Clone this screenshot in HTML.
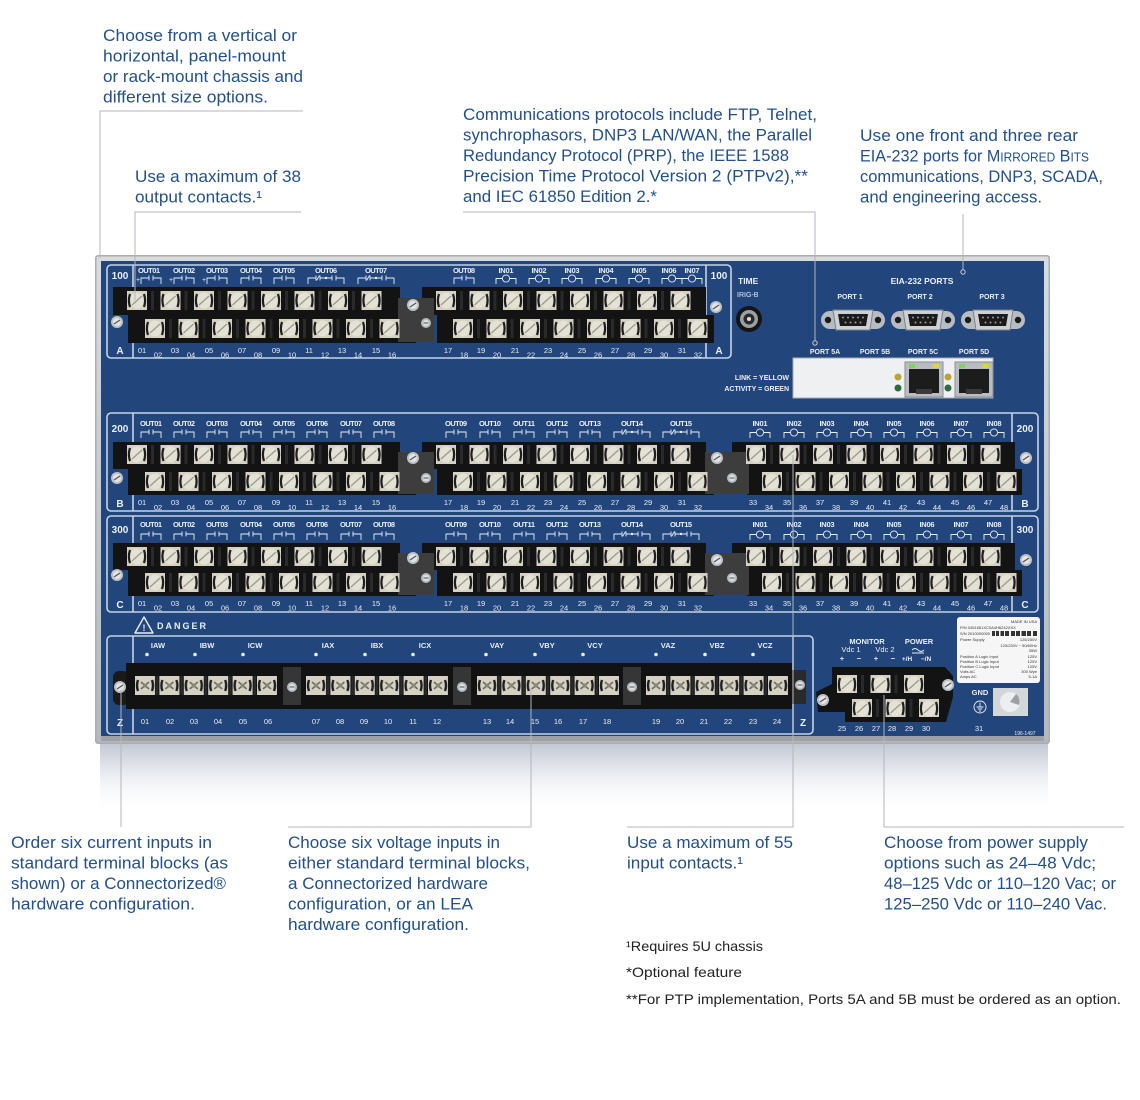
<!DOCTYPE html>
<html><head><meta charset="utf-8"><style>
html,body{margin:0;padding:0;background:#fff;}
svg{display:block;font-family:"Liberation Sans",sans-serif;}
.c{fill:#24508a;font-size:17px;}
.f{fill:#222;font-size:14px;}
.w{fill:#e8eef6;}
.lb{fill:#e8eef6;font-size:7.5px;font-weight:bold;text-anchor:middle;}
.nm{fill:#e8eef6;font-size:7.5px;text-anchor:middle;}
.bx{fill:none;stroke:#c5d3e8;stroke-width:1.6;}
.sep{stroke:#c5d3e8;stroke-width:1.6;}
.ln{stroke:#b3b6bb;stroke-width:1;fill:none;}
.sym{stroke:#e8eef6;stroke-width:0.9;fill:none;}
.st{fill:#333;font-size:4px;}
</style></head><body>
<svg width="1140" height="1100" viewBox="0 0 1140 1100" xmlns="http://www.w3.org/2000/svg">
<defs>
<linearGradient id="refl" x1="0" y1="0" x2="0" y2="1">
<stop offset="0" stop-color="#b9c1cc" stop-opacity="0.9"/>
<stop offset="0.35" stop-color="#d6dbe3" stop-opacity="0.7"/>
<stop offset="1" stop-color="#ffffff" stop-opacity="0"/>
</linearGradient>
<linearGradient id="bez" x1="0" y1="0" x2="0" y2="1">
<stop offset="0" stop-color="#d9dbdd"/><stop offset="1" stop-color="#b4b8bc"/>
</linearGradient>
<pattern id="sc" width="33.5" height="20" patternUnits="userSpaceOnUse">
<rect x="0" y="0" width="20" height="19" fill="#d6d2c3"/>
<ellipse cx="10" cy="9.5" rx="7" ry="8" fill="#e4e1d5"/>
<path d="M3,3 Q0.8,9.5 3,16" stroke="#1e1e1e" stroke-width="2.2" fill="none"/>
<path d="M17,3 Q19.2,9.5 17,16" stroke="#1e1e1e" stroke-width="2.2" fill="none"/>
<line x1="5" y1="14" x2="15" y2="5" stroke="#9d998b" stroke-width="1.3"/>
<rect x="24" y="-1" width="3" height="22" fill="#2a2a2a"/>
</pattern>
<pattern id="sz" width="24.4" height="20" patternUnits="userSpaceOnUse">
<rect x="0" y="0" width="20" height="19" fill="#d6d2c3"/>
<path d="M3,4 Q1,9.5 3,15" stroke="#1e1e1e" stroke-width="2.4" fill="none"/>
<path d="M17,4 Q19,9.5 17,15" stroke="#1e1e1e" stroke-width="2.4" fill="none"/>
<path d="M6,6 L14,13 M14,6 L6,13" stroke="#6e6a5e" stroke-width="1.6"/>
<circle cx="10" cy="9.5" r="2" fill="#8a8678"/>
<rect x="21" y="-4" width="2.4" height="27" fill="#2a2a2a"/>
</pattern>
<g id="no"><path class="sym" d="M-10,8 V2 H-2 M-2,-0.5 V4.5 M2,-0.5 V4.5 M2,2 H10 V8"/></g>
<g id="fc"><path class="sym" d="M-18,8 V2 H-10 M-10,-0.5 V4.5 M-6,-0.5 V4.5 M-9.5,4.5 L-6.5,-0.5 M-6,2 H6 M6,-0.5 V4.5 M10,-0.5 V4.5 M10,2 H18 V8"/><circle cx="0" cy="2" r="1.2" fill="#e8eef6"/></g>
<g id="in"><path class="sym" d="M-10,8 V2.5 H-4 M4,2.5 H10 V8"/><circle class="sym" cx="0" cy="2.5" r="3.6"/></g>
<g id="ms"><circle r="6" fill="#bfc2c4"/><circle r="4" fill="#e2e4e6"/><path d="M-3,2 L3,-2" stroke="#555" stroke-width="1.2"/></g>
<g id="ss"><circle r="5" fill="#b7babd"/><circle r="3.2" fill="#dcdfe1"/><path d="M-2.5,0 H2.5" stroke="#555" stroke-width="1"/></g>
<g id="db9">
<rect x="-32" y="-9" width="64" height="18" rx="9" fill="#b7bcc2"/>
<circle cx="-25" cy="0" r="3.2" fill="#1a1a1a"/><circle cx="25" cy="0" r="3.2" fill="#1a1a1a"/>
<path d="M-20,-10 H20 L17,10 H-17 Z" fill="#cdd1d5" stroke="#7d8287" stroke-width="1"/>
<path d="M-15,-6 H15 L13,6 H-13 Z" fill="#1b1b1b"/>
<g fill="#9a9a9a"><circle cx="-10" cy="-2.5" r="1"/><circle cx="-5" cy="-2.5" r="1"/><circle cx="0" cy="-2.5" r="1"/><circle cx="5" cy="-2.5" r="1"/><circle cx="10" cy="-2.5" r="1"/><circle cx="-7.5" cy="2.5" r="1"/><circle cx="-2.5" cy="2.5" r="1"/><circle cx="2.5" cy="2.5" r="1"/><circle cx="7.5" cy="2.5" r="1"/></g>
</g>
<g id="rj">
<rect x="0" y="0" width="38" height="35" fill="#b9bdc1" stroke="#8a8e92" stroke-width="1"/>
<rect x="4" y="7" width="30" height="24" fill="#1c1c1c"/>
<rect x="4" y="2" width="6" height="4" fill="#7fd35a"/>
<rect x="28" y="2" width="6" height="4" fill="#e4d630"/>
<rect x="11" y="27" width="16" height="5" fill="#3a3a3a"/>
</g>
</defs>

<!-- ===== Callout text ===== -->
<text class="c" x="103" y="41" textLength="194" lengthAdjust="spacingAndGlyphs">Choose from a vertical or</text>
<text class="c" x="103" y="61.5" textLength="183" lengthAdjust="spacingAndGlyphs">horizontal, panel-mount</text>
<text class="c" x="103" y="82" textLength="200" lengthAdjust="spacingAndGlyphs">or rack-mount chassis and</text>
<text class="c" x="103" y="102.5" textLength="165" lengthAdjust="spacingAndGlyphs">different size options.</text>

<text class="c" x="135" y="182" textLength="166" lengthAdjust="spacingAndGlyphs">Use a maximum of 38</text>
<text class="c" x="135" y="202.5" textLength="127" lengthAdjust="spacingAndGlyphs">output contacts.¹</text>

<text class="c" x="463" y="120" textLength="354" lengthAdjust="spacingAndGlyphs">Communications protocols include FTP, Telnet,</text>
<text class="c" x="463" y="140.5" textLength="349" lengthAdjust="spacingAndGlyphs">synchrophasors, DNP3 LAN/WAN, the Parallel</text>
<text class="c" x="463" y="161" textLength="326" lengthAdjust="spacingAndGlyphs">Redundancy Protocol (PRP), the IEEE 1588</text>
<text class="c" x="463" y="181.5" textLength="345" lengthAdjust="spacingAndGlyphs">Precision Time Protocol Version 2 (PTPv2),**</text>
<text class="c" x="463" y="202" textLength="194" lengthAdjust="spacingAndGlyphs">and IEC 61850 Edition 2.*</text>

<text class="c" x="860" y="141" textLength="218" lengthAdjust="spacingAndGlyphs">Use one front and three rear</text>
<text class="c" x="860" y="161.5" textLength="229" lengthAdjust="spacingAndGlyphs">EIA-232 ports for M<tspan font-size="12.5">IRRORED</tspan> B<tspan font-size="12.5">ITS</tspan></text>
<text class="c" x="860" y="182" textLength="243" lengthAdjust="spacingAndGlyphs">communications, DNP3, SCADA,</text>
<text class="c" x="860" y="202.5" textLength="182" lengthAdjust="spacingAndGlyphs">and engineering access.</text>

<text class="c" x="11" y="848" textLength="201" lengthAdjust="spacingAndGlyphs">Order six current inputs in</text>
<text class="c" x="11" y="868.5" textLength="217" lengthAdjust="spacingAndGlyphs">standard terminal blocks (as</text>
<text class="c" x="11" y="889" textLength="215" lengthAdjust="spacingAndGlyphs">shown) or a Connectorized®</text>
<text class="c" x="11" y="909.5" textLength="184" lengthAdjust="spacingAndGlyphs">hardware configuration.</text>

<text class="c" x="288" y="848" textLength="212" lengthAdjust="spacingAndGlyphs">Choose six voltage inputs in</text>
<text class="c" x="288" y="868.5" textLength="242" lengthAdjust="spacingAndGlyphs">either standard terminal blocks,</text>
<text class="c" x="288" y="889" textLength="200" lengthAdjust="spacingAndGlyphs">a Connectorized hardware</text>
<text class="c" x="288" y="909.5" textLength="185" lengthAdjust="spacingAndGlyphs">configuration, or an LEA</text>
<text class="c" x="288" y="930" textLength="181" lengthAdjust="spacingAndGlyphs">hardware configuration.</text>

<text class="c" x="627" y="848" textLength="166" lengthAdjust="spacingAndGlyphs">Use a maximum of 55</text>
<text class="c" x="627" y="868.5" textLength="116" lengthAdjust="spacingAndGlyphs">input contacts.¹</text>

<text class="c" x="884" y="848" textLength="204" lengthAdjust="spacingAndGlyphs">Choose from power supply</text>
<text class="c" x="884" y="868.5" textLength="212" lengthAdjust="spacingAndGlyphs">options such as 24–48 Vdc;</text>
<text class="c" x="884" y="889" textLength="232" lengthAdjust="spacingAndGlyphs">48–125 Vdc or 110–120 Vac; or</text>
<text class="c" x="884" y="909.5" textLength="223" lengthAdjust="spacingAndGlyphs">125–250 Vdc or 110–240 Vac.</text>

<text class="f" x="626" y="951" textLength="137" lengthAdjust="spacingAndGlyphs">¹Requires 5U chassis</text>
<text class="f" x="626" y="977" textLength="116" lengthAdjust="spacingAndGlyphs">*Optional feature</text>
<text class="f" x="626" y="1004" textLength="495" lengthAdjust="spacingAndGlyphs">**For PTP implementation, Ports 5A and 5B must be ordered as an option.</text>

<!-- ===== Chassis ===== -->
<rect x="100" y="743" width="948" height="72" fill="url(#refl)"/>
<rect x="95" y="255" width="955" height="489" rx="3" fill="#a9adb1"/>
<rect x="96.5" y="256.5" width="952" height="486" rx="2" fill="url(#bez)"/>
<rect x="101" y="261" width="943" height="475" fill="#22467b"/>
<rect x="101" y="736" width="943" height="5" fill="#9ea2a6"/>

<!-- Row boxes -->
<rect class="bx" x="107" y="265" width="624" height="93" rx="4"/>
<line class="sep" x1="133" y1="265" x2="133" y2="358"/>
<line class="sep" x1="706" y1="265" x2="706" y2="358"/>
<rect class="bx" x="107" y="413" width="931" height="98" rx="4"/>
<line class="sep" x1="133" y1="413" x2="133" y2="511"/>
<line class="sep" x1="1012" y1="413" x2="1012" y2="511"/>
<rect class="bx" x="107" y="516" width="931" height="96" rx="4"/>
<line class="sep" x1="133" y1="516" x2="133" y2="612"/>
<line class="sep" x1="1012" y1="516" x2="1012" y2="612"/>
<rect class="bx" x="107" y="636" width="706" height="98" rx="4"/>
<line class="sep" x1="133" y1="636" x2="133" y2="734"/>
<line class="sep" x1="793" y1="636" x2="793" y2="734"/>

<!-- Row identifiers -->
<g class="w" font-size="10" font-weight="bold" text-anchor="middle">
<text x="120" y="279">100</text><text x="120" y="354">A</text>
<text x="719" y="279">100</text><text x="719" y="354">A</text>
<text x="120" y="432">200</text><text x="120" y="507">B</text>
<text x="1025" y="432">200</text><text x="1025" y="507">B</text>
<text x="120" y="533">300</text><text x="120" y="608">C</text>
<text x="1025" y="533">300</text><text x="1025" y="608">C</text>
<text x="120" y="726">Z</text><text x="803" y="726">Z</text>
</g>

<!-- ===== Row A ===== -->
<polygon points="113,287 400,287 400,315 416,315 416,343 128,343 128,315 113,315" fill="#131313"/>
<polygon points="422,287 706,287 706,315 714,315 714,343 437,343 437,315 422,315" fill="#131313"/>
<rect x="398" y="298" width="36" height="44" fill="#3d3d3d"/>
<rect width="254.5" height="19" fill="url(#sc)" transform="translate(127,291)"/>
<rect width="254.5" height="19" fill="url(#sc)" transform="translate(145,319)"/>
<rect width="254.5" height="19" fill="url(#sc)" transform="translate(436,291)"/>
<rect width="254.5" height="19" fill="url(#sc)" transform="translate(453,319)"/>
<use href="#ms" x="117" y="322"/><use href="#ms" x="413" y="305"/><use href="#ss" x="426" y="323"/><use href="#ms" x="716" y="307"/>
<g class="lb">
<text x="149" y="273" textLength="22">OUT01</text><text x="184" y="273" textLength="22">OUT02</text><text x="217" y="273" textLength="22">OUT03</text><text x="251" y="273" textLength="22">OUT04</text><text x="284" y="273" textLength="22">OUT05</text><text x="326" y="273" textLength="22">OUT06</text><text x="376" y="273" textLength="22">OUT07</text><text x="464" y="273" textLength="22">OUT08</text><text x="506" y="273" textLength="15">IN01</text><text x="539" y="273" textLength="15">IN02</text><text x="572" y="273" textLength="15">IN03</text><text x="606" y="273" textLength="15">IN04</text><text x="639" y="273" textLength="15">IN05</text><text x="669" y="273" textLength="15">IN06</text><text x="692" y="273" textLength="15">IN07</text>
</g>
<g class="w" font-size="7"><text x="136" y="282">+</text><text x="169" y="282">+</text><text x="202" y="282">+</text></g>
<use href="#no" x="151" y="276"/><use href="#no" x="184" y="276"/><use href="#no" x="217" y="276"/><use href="#no" x="251" y="276"/><use href="#no" x="284" y="276"/><use href="#fc" x="326" y="276"/><use href="#fc" x="376" y="276"/><use href="#no" x="464" y="276"/><use href="#in" x="506" y="276"/><use href="#in" x="539" y="276"/><use href="#in" x="572" y="276"/><use href="#in" x="606" y="276"/><use href="#in" x="639" y="276"/><use href="#in" x="672" y="276"/><use href="#in" x="692" y="276"/>
<g class="nm">
<text x="142" y="353">01</text><text x="175" y="353">03</text><text x="209" y="353">05</text><text x="242" y="353">07</text><text x="276" y="353">09</text><text x="309" y="353">11</text><text x="342" y="353">13</text><text x="376" y="353">15</text>
<text x="158" y="357.5">02</text><text x="191" y="357.5">04</text><text x="225" y="357.5">06</text><text x="258" y="357.5">08</text><text x="292" y="357.5">10</text><text x="325" y="357.5">12</text><text x="358" y="357.5">14</text><text x="392" y="357.5">16</text>
<text x="448" y="353">17</text><text x="481" y="353">19</text><text x="515" y="353">21</text><text x="548" y="353">23</text><text x="582" y="353">25</text><text x="615" y="353">27</text><text x="648" y="353">29</text><text x="682" y="353">31</text>
<text x="464" y="357.5">18</text><text x="497" y="357.5">20</text><text x="531" y="357.5">22</text><text x="564" y="357.5">24</text><text x="598" y="357.5">26</text><text x="631" y="357.5">28</text><text x="664" y="357.5">30</text><text x="698" y="357.5">32</text>
</g>

<!-- TIME / ports -->
<text class="w" x="738" y="284" font-size="8.5" font-weight="bold">TIME</text>
<text class="w" x="737" y="297" font-size="7">IRIG-B</text>
<circle cx="749" cy="319" r="13" fill="#151515"/><circle cx="749" cy="319" r="9" fill="#9aa0a5"/><circle cx="749" cy="319" r="5.5" fill="#2a2a2a"/><circle cx="749" cy="319" r="2" fill="#ddd"/>
<text class="w" x="922" y="284" font-size="8.5" font-weight="bold" text-anchor="middle">EIA-232 PORTS</text>
<g class="w" font-size="7" font-weight="bold" text-anchor="middle">
<text x="850" y="299">PORT 1</text><text x="920" y="299">PORT 2</text><text x="992" y="299">PORT 3</text>
<text x="825" y="354">PORT 5A</text><text x="875" y="354">PORT 5B</text><text x="923" y="354">PORT 5C</text><text x="974" y="354">PORT 5D</text>
</g>
<use href="#db9" x="853" y="320"/><use href="#db9" x="923" y="320"/><use href="#db9" x="993" y="320"/>
<rect x="793" y="358" width="200" height="40" fill="#eef0f2" stroke="#a9adb1" stroke-width="1"/>
<g class="w" font-size="7" font-weight="bold" text-anchor="end">
<text x="789" y="380">LINK = YELLOW</text><text x="789" y="391">ACTIVITY = GREEN</text>
</g>
<circle cx="898" cy="377" r="3.5" fill="#b9a532"/><circle cx="898" cy="388" r="3.5" fill="#2f6b3e"/>
<circle cx="948" cy="377" r="3.5" fill="#b9a532"/><circle cx="948" cy="388" r="3.5" fill="#2f6b3e"/>
<use href="#rj" x="905" y="362"/><use href="#rj" x="955" y="362"/>

<!-- ===== Row B ===== -->
<polygon points="113,442 400,442 400,469 416,469 416,495 128,495 128,469 113,469" fill="#131313"/>
<polygon points="422,442 706,442 706,469 714,469 714,495 437,495 437,469 422,469" fill="#131313"/>
<polygon points="732,442 1015,442 1015,469 1022,469 1022,495 747,495 747,469 732,469" fill="#131313"/>
<rect x="398" y="452" width="36" height="42" fill="#3d3d3d"/><rect x="705" y="452" width="44" height="42" fill="#3d3d3d"/>
<rect width="254.5" height="19" fill="url(#sc)" transform="translate(127,445)"/>
<rect width="254.5" height="19" fill="url(#sc)" transform="translate(145,472)"/>
<rect width="254.5" height="19" fill="url(#sc)" transform="translate(436,445)"/>
<rect width="254.5" height="19" fill="url(#sc)" transform="translate(453,472)"/>
<rect width="254.5" height="19" fill="url(#sc)" transform="translate(746,445)"/>
<rect width="254.5" height="19" fill="url(#sc)" transform="translate(762,472)"/>
<use href="#ms" x="117" y="478"/><use href="#ms" x="413" y="458"/><use href="#ss" x="426" y="478"/><use href="#ms" x="717" y="458"/><use href="#ss" x="732" y="478"/><use href="#ms" x="1026" y="458"/>
<g class="lb">
<text x="151" y="426" textLength="22">OUT01</text><text x="184" y="426" textLength="22">OUT02</text><text x="217" y="426" textLength="22">OUT03</text><text x="251" y="426" textLength="22">OUT04</text><text x="284" y="426" textLength="22">OUT05</text><text x="317" y="426" textLength="22">OUT06</text><text x="351" y="426" textLength="22">OUT07</text><text x="384" y="426" textLength="22">OUT08</text>
<text x="456" y="426" textLength="22">OUT09</text><text x="490" y="426" textLength="22">OUT10</text><text x="524" y="426" textLength="22">OUT11</text><text x="557" y="426" textLength="22">OUT12</text><text x="590" y="426" textLength="22">OUT13</text><text x="632" y="426" textLength="22">OUT14</text><text x="681" y="426" textLength="22">OUT15</text>
<text x="760" y="426" textLength="15">IN01</text><text x="794" y="426" textLength="15">IN02</text><text x="827" y="426" textLength="15">IN03</text><text x="861" y="426" textLength="15">IN04</text><text x="894" y="426" textLength="15">IN05</text><text x="927" y="426" textLength="15">IN06</text><text x="961" y="426" textLength="15">IN07</text><text x="994" y="426" textLength="15">IN08</text>
</g>
<use href="#no" x="151" y="430"/><use href="#no" x="184" y="430"/><use href="#no" x="217" y="430"/><use href="#no" x="251" y="430"/><use href="#no" x="284" y="430"/><use href="#no" x="317" y="430"/><use href="#no" x="351" y="430"/><use href="#no" x="384" y="430"/>
<use href="#no" x="456" y="430"/><use href="#no" x="490" y="430"/><use href="#no" x="524" y="430"/><use href="#no" x="557" y="430"/><use href="#no" x="590" y="430"/><use href="#fc" x="632" y="430"/><use href="#fc" x="681" y="430"/>
<use href="#in" x="760" y="430"/><use href="#in" x="794" y="430"/><use href="#in" x="827" y="430"/><use href="#in" x="861" y="430"/><use href="#in" x="894" y="430"/><use href="#in" x="927" y="430"/><use href="#in" x="961" y="430"/><use href="#in" x="994" y="430"/>
<g class="nm">
<text x="142" y="505">01</text><text x="175" y="505">03</text><text x="209" y="505">05</text><text x="242" y="505">07</text><text x="276" y="505">09</text><text x="309" y="505">11</text><text x="342" y="505">13</text><text x="376" y="505">15</text>
<text x="158" y="510">02</text><text x="191" y="510">04</text><text x="225" y="510">06</text><text x="258" y="510">08</text><text x="292" y="510">10</text><text x="325" y="510">12</text><text x="358" y="510">14</text><text x="392" y="510">16</text>
<text x="448" y="505">17</text><text x="481" y="505">19</text><text x="515" y="505">21</text><text x="548" y="505">23</text><text x="582" y="505">25</text><text x="615" y="505">27</text><text x="648" y="505">29</text><text x="682" y="505">31</text>
<text x="464" y="510">18</text><text x="497" y="510">20</text><text x="531" y="510">22</text><text x="564" y="510">24</text><text x="598" y="510">26</text><text x="631" y="510">28</text><text x="664" y="510">30</text><text x="698" y="510">32</text>
<text x="753" y="505">33</text><text x="787" y="505">35</text><text x="820" y="505">37</text><text x="854" y="505">39</text><text x="887" y="505">41</text><text x="921" y="505">43</text><text x="955" y="505">45</text><text x="988" y="505">47</text>
<text x="769" y="510">34</text><text x="803" y="510">36</text><text x="836" y="510">38</text><text x="870" y="510">40</text><text x="903" y="510">42</text><text x="937" y="510">44</text><text x="971" y="510">46</text><text x="1004" y="510">48</text>
</g>

<!-- ===== Row C ===== -->
<polygon points="113,543 400,543 400,570 416,570 416,596 128,596 128,570 113,570" fill="#131313"/>
<polygon points="422,543 706,543 706,570 714,570 714,596 437,596 437,570 422,570" fill="#131313"/>
<polygon points="732,543 1015,543 1015,570 1022,570 1022,596 747,596 747,570 732,570" fill="#131313"/>
<rect x="398" y="553" width="36" height="42" fill="#3d3d3d"/><rect x="705" y="553" width="44" height="42" fill="#3d3d3d"/>
<rect width="254.5" height="19" fill="url(#sc)" transform="translate(127,547)"/>
<rect width="254.5" height="19" fill="url(#sc)" transform="translate(145,573)"/>
<rect width="254.5" height="19" fill="url(#sc)" transform="translate(436,547)"/>
<rect width="254.5" height="19" fill="url(#sc)" transform="translate(453,573)"/>
<rect width="254.5" height="19" fill="url(#sc)" transform="translate(746,547)"/>
<rect width="254.5" height="19" fill="url(#sc)" transform="translate(762,573)"/>
<use href="#ms" x="117" y="575"/><use href="#ms" x="413" y="558"/><use href="#ss" x="426" y="578"/><use href="#ms" x="717" y="560"/><use href="#ss" x="732" y="578"/><use href="#ms" x="1026" y="560"/>
<g class="lb">
<text x="151" y="527" textLength="22">OUT01</text><text x="184" y="527" textLength="22">OUT02</text><text x="217" y="527" textLength="22">OUT03</text><text x="251" y="527" textLength="22">OUT04</text><text x="284" y="527" textLength="22">OUT05</text><text x="317" y="527" textLength="22">OUT06</text><text x="351" y="527" textLength="22">OUT07</text><text x="384" y="527" textLength="22">OUT08</text>
<text x="456" y="527" textLength="22">OUT09</text><text x="490" y="527" textLength="22">OUT10</text><text x="524" y="527" textLength="22">OUT11</text><text x="557" y="527" textLength="22">OUT12</text><text x="590" y="527" textLength="22">OUT13</text><text x="632" y="527" textLength="22">OUT14</text><text x="681" y="527" textLength="22">OUT15</text>
<text x="760" y="527" textLength="15">IN01</text><text x="794" y="527" textLength="15">IN02</text><text x="827" y="527" textLength="15">IN03</text><text x="861" y="527" textLength="15">IN04</text><text x="894" y="527" textLength="15">IN05</text><text x="927" y="527" textLength="15">IN06</text><text x="961" y="527" textLength="15">IN07</text><text x="994" y="527" textLength="15">IN08</text>
</g>
<use href="#no" x="151" y="532"/><use href="#no" x="184" y="532"/><use href="#no" x="217" y="532"/><use href="#no" x="251" y="532"/><use href="#no" x="284" y="532"/><use href="#no" x="317" y="532"/><use href="#no" x="351" y="532"/><use href="#no" x="384" y="532"/>
<use href="#no" x="456" y="532"/><use href="#no" x="490" y="532"/><use href="#no" x="524" y="532"/><use href="#no" x="557" y="532"/><use href="#no" x="590" y="532"/><use href="#fc" x="632" y="532"/><use href="#fc" x="681" y="532"/>
<use href="#in" x="760" y="532"/><use href="#in" x="794" y="532"/><use href="#in" x="827" y="532"/><use href="#in" x="861" y="532"/><use href="#in" x="894" y="532"/><use href="#in" x="927" y="532"/><use href="#in" x="961" y="532"/><use href="#in" x="994" y="532"/>
<g class="nm">
<text x="142" y="606">01</text><text x="175" y="606">03</text><text x="209" y="606">05</text><text x="242" y="606">07</text><text x="276" y="606">09</text><text x="309" y="606">11</text><text x="342" y="606">13</text><text x="376" y="606">15</text>
<text x="158" y="610.5">02</text><text x="191" y="610.5">04</text><text x="225" y="610.5">06</text><text x="258" y="610.5">08</text><text x="292" y="610.5">10</text><text x="325" y="610.5">12</text><text x="358" y="610.5">14</text><text x="392" y="610.5">16</text>
<text x="448" y="606">17</text><text x="481" y="606">19</text><text x="515" y="606">21</text><text x="548" y="606">23</text><text x="582" y="606">25</text><text x="615" y="606">27</text><text x="648" y="606">29</text><text x="682" y="606">31</text>
<text x="464" y="610.5">18</text><text x="497" y="610.5">20</text><text x="531" y="610.5">22</text><text x="564" y="610.5">24</text><text x="598" y="610.5">26</text><text x="631" y="610.5">28</text><text x="664" y="610.5">30</text><text x="698" y="610.5">32</text>
<text x="753" y="606">33</text><text x="787" y="606">35</text><text x="820" y="606">37</text><text x="854" y="606">39</text><text x="887" y="606">41</text><text x="921" y="606">43</text><text x="955" y="606">45</text><text x="988" y="606">47</text>
<text x="769" y="610.5">34</text><text x="803" y="610.5">36</text><text x="836" y="610.5">38</text><text x="870" y="610.5">40</text><text x="903" y="610.5">42</text><text x="937" y="610.5">44</text><text x="971" y="610.5">46</text><text x="1004" y="610.5">48</text>
</g>

<!-- ===== DANGER / Z row ===== -->
<path d="M144,617 L153,633 H135 Z" fill="none" stroke="#e8eef6" stroke-width="1.4" stroke-linejoin="round"/>
<text class="w" x="144" y="631" font-size="9" font-weight="bold" text-anchor="middle">!</text>
<text class="w" x="157" y="629" font-size="9" font-weight="bold" letter-spacing="2">DANGER</text>

<rect x="113" y="671" width="16" height="34" rx="6" fill="#1a1a1a"/>
<rect x="126" y="663" width="666" height="46" fill="#121212"/>
<rect x="283" y="667" width="18" height="38" fill="#363636"/><rect x="453" y="667" width="18" height="38" fill="#363636"/><rect x="623" y="667" width="18" height="38" fill="#363636"/>
<rect x="792" y="670" width="14" height="34" fill="#2a2a2a"/>
<use href="#ms" x="120" y="687"/><use href="#ss" x="292" y="687"/><use href="#ss" x="462" y="687"/><use href="#ss" x="632" y="687"/><use href="#ss" x="800" y="685"/>
<rect width="142" height="19" fill="url(#sz)" transform="translate(135,676)"/>
<rect width="142" height="19" fill="url(#sz)" transform="translate(306,676)"/>
<rect width="142" height="19" fill="url(#sz)" transform="translate(477,676)"/>
<rect width="142" height="19" fill="url(#sz)" transform="translate(646,676)"/>
<g class="lb">
<text x="158" y="648">IAW</text><text x="207" y="648">IBW</text><text x="255" y="648">ICW</text>
<text x="328" y="648">IAX</text><text x="377" y="648">IBX</text><text x="425" y="648">ICX</text>
<text x="497" y="648">VAY</text><text x="547" y="648">VBY</text><text x="595" y="648">VCY</text>
<text x="668" y="648">VAZ</text><text x="717" y="648">VBZ</text><text x="765" y="648">VCZ</text>
</g>
<g fill="#e8eef6">
<circle cx="147" cy="654.5" r="1.8"/><circle cx="195" cy="654.5" r="1.8"/><circle cx="243" cy="654.5" r="1.8"/>
<circle cx="316" cy="654.5" r="1.8"/><circle cx="365" cy="654.5" r="1.8"/><circle cx="413" cy="654.5" r="1.8"/>
<circle cx="486" cy="654.5" r="1.8"/><circle cx="535" cy="654.5" r="1.8"/><circle cx="583" cy="654.5" r="1.8"/>
<circle cx="656" cy="654.5" r="1.8"/><circle cx="705" cy="654.5" r="1.8"/><circle cx="753" cy="654.5" r="1.8"/>
</g>
<g class="nm" font-size="8">
<text x="145" y="724">01</text><text x="170" y="724">02</text><text x="194" y="724">03</text><text x="218" y="724">04</text><text x="243" y="724">05</text><text x="268" y="724">06</text>
<text x="316" y="724">07</text><text x="340" y="724">08</text><text x="364" y="724">09</text><text x="388" y="724">10</text><text x="413" y="724">11</text><text x="437" y="724">12</text>
<text x="487" y="724">13</text><text x="510" y="724">14</text><text x="535" y="724">15</text><text x="558" y="724">16</text><text x="583" y="724">17</text><text x="607" y="724">18</text>
<text x="656" y="724">19</text><text x="680" y="724">20</text><text x="704" y="724">21</text><text x="728" y="724">22</text><text x="753" y="724">23</text><text x="777" y="724">24</text>
</g>

<!-- ===== Power section ===== -->
<g class="w" font-size="7.5" text-anchor="middle">
<text x="867" y="644" font-weight="bold">MONITOR</text><text x="919" y="644" font-weight="bold">POWER</text>
<text x="851" y="652">Vdc 1</text><text x="885" y="652">Vdc 2</text>
<text x="842" y="661" font-weight="bold">+</text><text x="859" y="661" font-weight="bold">−</text><text x="876" y="661" font-weight="bold">+</text><text x="893" y="661" font-weight="bold">−</text>
<text x="907" y="661" font-size="6.5" font-weight="bold">+/H</text><text x="926" y="661" font-size="6.5" font-weight="bold">−/N</text>
</g>
<path d="M912,650 q3,-3 6,0 t6,0 M912,653 h12" class="sym"/>
<polygon points="832,667 945,667 953,676 953,697 946,722 845,722 845,712 818,712 816,692 832,684" fill="#131313"/>
<rect width="87" height="18" fill="url(#sc)" transform="translate(837,675)"/>
<rect width="87" height="18" fill="url(#sc)" transform="translate(852,699)"/>
<use href="#ms" x="823" y="700"/><use href="#ms" x="948" y="685"/>
<g class="nm" font-size="8">
<text x="842" y="731">25</text><text x="859" y="731">26</text><text x="876" y="731">27</text><text x="892" y="731">28</text><text x="909" y="731">29</text><text x="926" y="731">30</text><text x="979" y="731">31</text>
</g>
<text class="w" x="980" y="695" font-size="7.5" font-weight="bold" text-anchor="middle">GND</text>
<circle cx="980" cy="707" r="6" class="sym" stroke-width="1.1"/>
<path d="M980,702.5 V707 M976.5,707 H983.5 M977.8,709 H982.2 M979,711 H981" class="sym"/>
<rect x="993" y="688" width="35" height="28" fill="#d4d7da"/>
<circle cx="1010" cy="702" r="10" fill="#eceef0"/><path d="M1010,702 L1016,694 A10,10 0 0,1 1019,705 Z" fill="#9aa0a6"/>
<text class="w" x="1025" y="735" font-size="5" text-anchor="middle">196-1497</text>

<!-- sticker -->
<rect x="957" y="617" width="83" height="66" rx="3" fill="#f6f6f6"/>
<g class="st">
<text x="1037" y="623" text-anchor="end">MADE IN USA</text>
<text x="960" y="629">P/N 0451561XC0A4H6242XXX</text>
<text x="960" y="635">S/N 2010000000</text>
<text x="960" y="641">Power Supply</text><text x="1037" y="641" text-anchor="end">125/250V</text>
<text x="1037" y="647" text-anchor="end">120/230V ~ 50/60Hz</text>
<text x="1037" y="652" text-anchor="end">35W</text>
<text x="960" y="658">Position A Logic Input</text><text x="1037" y="658" text-anchor="end">125V</text>
<text x="960" y="663">Position B Logic Input</text><text x="1037" y="663" text-anchor="end">125V</text>
<text x="960" y="668">Position C Logic Input</text><text x="1037" y="668" text-anchor="end">125V</text>
<text x="960" y="673">Volts AC</text><text x="1037" y="673" text-anchor="end">300 Wye</text>
<text x="960" y="678">Amps AC</text><text x="1037" y="678" text-anchor="end">5-1A</text>
</g>
<rect x="992" y="631" width="45" height="5" fill="#333"/>
<g fill="#f6f6f6"><rect x="995" y="631" width="1" height="5"/><rect x="999" y="631" width="1.5" height="5"/><rect x="1004" y="631" width="1" height="5"/><rect x="1009" y="631" width="2" height="5"/><rect x="1015" y="631" width="1" height="5"/><rect x="1020" y="631" width="1.5" height="5"/><rect x="1026" y="631" width="1" height="5"/><rect x="1031" y="631" width="2" height="5"/></g>

<!-- ===== Leader lines ===== -->
<polyline class="ln" points="303,111 100,111 100,258"/>
<polyline class="ln" points="301,212 135,212 135,300"/>
<polyline class="ln" points="463,212 815,212 815,341"/>
<circle cx="815" cy="343" r="2.2" fill="none" stroke="#c9ccd2" stroke-width="1"/>
<line class="ln" x1="963" y1="214" x2="963" y2="270"/>
<circle cx="963" cy="272" r="2.2" fill="none" stroke="#c9ccd2" stroke-width="1"/>
<line class="ln" x1="121" y1="690" x2="121" y2="827" stroke="#c2c6cc"/>
<polyline class="ln" points="531,688 531,827 288,827" stroke="#c2c6cc"/>
<polyline class="ln" points="793,455 793,827 627,827" stroke="#c2c6cc"/>
<polyline class="ln" points="884,695 884,827 1124,827" stroke="#c2c6cc"/>
</svg>
</body></html>
